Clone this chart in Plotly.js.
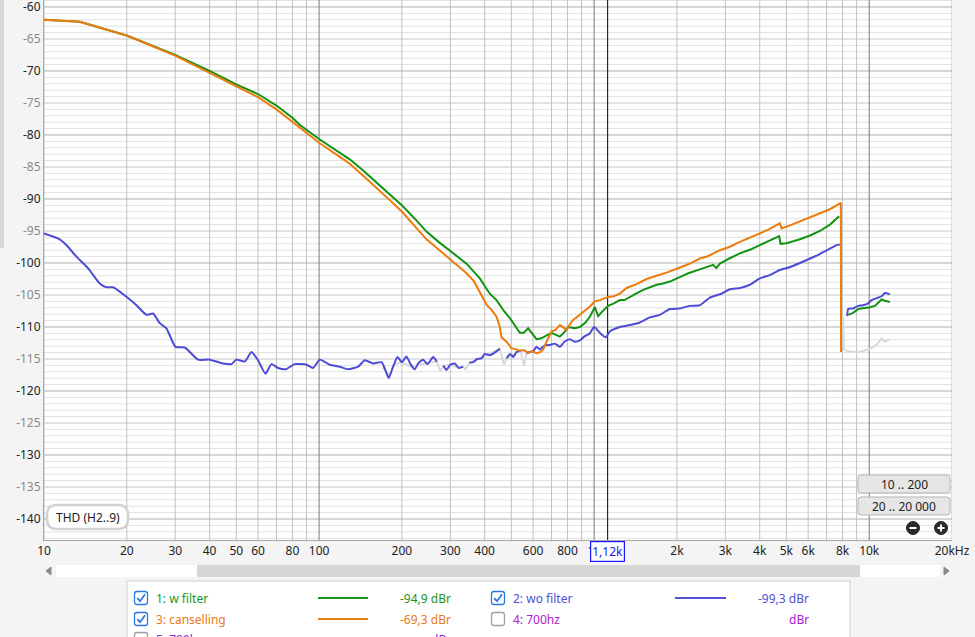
<!DOCTYPE html>
<html><head><meta charset="utf-8">
<script src="https://cdn.plot.ly/plotly-3.0.1.min.js"></script>
<style>html,body{margin:0;padding:0;background:#f4f4f4;overflow:hidden}#chart{width:975px;height:637px}</style>
</head><body><div id="chart"></div>
<script>
// ---------- DATA ----------
const freqGreen = [10, 13.5, 20.1, 30, 40, 50, 60, 70, 80, 85,
  100.6, 115, 129.3, 145, 161.7, 180, 200.3, 222, 245.8, 272,
  300.5, 343.6, 384.1, 400.5, 417.6, 441.7, 454.1, 470, 493.6, 515,
  536.8, 555, 575.4, 590, 617.4, 640, 661.8, 680, 700, 725,
  750.5, 780, 804.5, 850, 887.2, 930, 964.7, 1006, 1034, 1070,
  1124, 1180, 1240, 1290, 1348, 1420, 1508, 1600, 1686, 1780,
  1885, 2049, 2200, 2423, 2560, 2708, 2780, 2865, 3100, 3387,
  3700, 4004, 4300, 4706, 4762, 5000, 5300, 5598, 6100, 6617,
  7200, 7780, 8100, 8388, 8747, 9120, 9511, 10060, 10490, 10940,
  11100, 11400, 11890];
const dbGreen = [-62.0, -62.3, -64.5, -67.5, -70.0, -72.1, -73.6, -75.4, -77.3, -78.4,
  -80.7, -82.3, -83.8, -85.6, -87.4, -89.2, -91.0, -93.0, -95.1, -96.7,
  -98.2, -100.1, -102.4, -103.6, -104.8, -105.8, -106.6, -107.5, -108.6, -109.7,
  -110.9, -110.9, -110.2, -110.8, -111.9, -111.8, -111.4, -111.2, -110.9, -111.2,
  -111.5, -110.8, -110.0, -110.2, -110.0, -109.3, -108.4, -106.9, -108.3, -107.6,
  -106.7, -106.3, -105.8, -105.8, -105.4, -104.8, -104.2, -103.8, -103.4, -103.2,
  -102.9, -102.2, -101.6, -101.0, -100.6, -100.3, -100.8, -100.1, -99.3, -98.5,
  -97.9, -97.2, -96.6, -95.8, -97.0, -96.9, -96.6, -96.3, -95.7, -95.0,
  -94.0, -92.7, null, -108.1, -107.8, -107.2, -107.1, -106.9, -106.7, -106.0,
  -105.7, -105.9, -106.1];

const freqOrange = [10, 13.5, 20.1, 30, 40, 50, 60, 70, 80, 85,
  100.6, 115, 129.3, 145, 161.7, 180, 200.3, 222, 245.8, 272,
  300.5, 320, 343.6, 365, 384.1, 406.2, 425, 441.7, 454.1, 460.6,
  480.2, 500.6, 520, 536.8, 555, 575.4, 595, 617.4, 640, 652.5,
  671.3, 700, 725, 750.5, 775, 793.7, 815, 838.8, 887.2, 930,
  964.7, 1006, 1049, 1124, 1180, 1240, 1312, 1426, 1551, 1686,
  1834, 2049, 2200, 2423, 2600, 2865, 3100, 3387, 3700, 4004,
  4300, 4734, 4803, 5100, 5598, 6100, 6617, 7200, 7825, 7890,
  7900];
const dbOrange = [-62.0, -62.3, -64.5, -67.6, -70.3, -72.4, -74.1, -76.0, -77.9, -78.9,
  -81.3, -83.0, -84.5, -86.4, -88.2, -90.1, -92.0, -94.2, -96.3, -97.9,
  -99.5, -100.5, -101.6, -102.8, -104.6, -106.5, -107.4, -108.4, -110.0, -111.6,
  -112.3, -113.3, -113.5, -113.7, -113.6, -114.0, -113.8, -114.1, -113.9, -113.5,
  -112.3, -110.7, -110.4, -109.7, -110.1, -110.5, -109.6, -108.9, -108.1, -107.4,
  -106.8, -106.0, -105.8, -105.3, -105.2, -104.8, -103.9, -103.3, -102.5, -102.0,
  -101.5, -100.7, -100.2, -99.3, -98.9, -98.0, -97.5, -96.7, -96.0, -95.4,
  -94.8, -93.8, -94.6, -94.2, -93.5, -92.9, -92.3, -91.6, -90.7, -90.6,
  -113.9];

const freqBlue = [10, 11.4, 12.06, 13.12, 14.45, 15.94, 16.86, 17.82, 20.1, 21.68,
  23.58, 24.91, 26.35, 27.87, 30.05, 32.48, 36.31, 40.05, 44.77, 48.03,
  50.07, 53.67, 56.78, 60, 63.85, 67.14, 70.95, 75.68, 81.57, 90,
  95.1, 100.6, 109.4, 118.9, 127.5, 138.7, 146.7, 157.2, 168.7, 173.4,
  179.2, 185.8, 192.8, 200, 207.9, 215, 222.8, 230, 238.9, 248,
  259.7, 268, 275, 283, 290.6, 300, 311.5, 322, 333.9, 345,
  352, 363.1, 375, 389.6, 400, 417.6, 435, 454.1, 465, 480.2,
  495, 508, 522.2, 540, 555, 567.8, 583.7, 600, 617, 634.7,
  660, 690.1, 720, 750.5, 780, 815.9, 850, 887.2, 920, 964.7,
  1000, 1049, 1103, 1140, 1240, 1348, 1467, 1594, 1734, 1885,
  2049, 2228, 2423, 2634, 2900, 3115, 3400, 3683, 4004, 4350,
  4734, 5100, 5598, 6100, 6617, 7100, 7611, 7825, 8100, 8318,
  8388, 8747, 9120, 9511, 9917, 10200, 10640, 11100, 11400, 11890];
const dbBlue = [-95.4, -96.3, -97.2, -99.0, -100.8, -103.2, -103.8, -103.8, -105.4, -106.6,
  -108.1, -107.9, -109.4, -110.2, -113.1, -113.2, -115.1, -115.1, -115.7, -115.8,
  -115.1, -115.4, -113.9, -115.2, -117.3, -115.8, -116.4, -116.6, -115.8, -115.9,
  -116.4, -115.1, -115.9, -116.2, -116.6, -116.2, -115.2, -115.7, -115.5, -116.5,
  -118.0, -116.2, -114.7, -115.5, -114.6, -115.8, -116.6, -115.6, -115.1, -115.8,
  -114.7, -115.4, null, -116.0, -116.7, -115.9, -115.7, -116.4, -116.2, null,
  -115.6, -115.5, -115.0, -114.9, -114.2, -114.4, -114.0, -113.4, null, -114.9,
  -114.2, -114.7, -113.9, -113.7, null, -114.1, -113.9, -113.8, -113.1, -113.5,
  -112.9, -112.8, -112.6, -113.1, -112.3, -111.9, -112.3, -112.1, -111.5, -111.0,
  -110.0, -110.9, -111.6, -110.7, -110.0, -109.7, -109.3, -108.5, -108.1, -107.2,
  -107.1, -106.7, -106.6, -105.4, -104.8, -104.1, -103.9, -103.4, -102.4, -101.9,
  -101.1, -100.7, -100.0, -99.3, -98.6, -97.9, -97.2, -97.1, null, -108.3,
  -107.2, -107.1, -106.7, -106.6, -106.3, -105.8, -105.5, -105.2, -104.7, -104.9];

const freqGray = [170, 180, 188, 200, 215, 230, 250, 268, 276, 283,
  300, 322, 334, 340, 348, 352, 400, 454, 462, 470,
  480, 540, 548, 556, 568, 600, 4000, 8043, 8060, 8080,
  8388, 8747, 9252, 9917, 10060, 10640, 11100, 11400, 11890];
const dbGray = [-116.3, -117.6, -115.8, -115.5, -116.2, -115.9, -115.6, -115.4, -116.9, -116.1,
  -115.9, -116.4, -116.2, -116.6, -115.9, -115.6, -114.6, -113.4, -114.6, -115.9,
  -114.9, -113.7, -114.9, -116.0, -114.1, -113.8, null, -108.4, -111.0, -113.5,
  -113.8, -113.9, -113.9, -113.5, -113.4, -112.8, -111.8, -112.3, -111.9];

const xTickVals = [10,20,30,40,50,60,70,80,90,100,200,300,400,500,600,700,800,900,1000,2000,3000,4000,5000,6000,7000,8000,9000,10000,20000];
const xTickText = ['10','20','30','40','50','60','','80','','100','200','300','400','','600','','800','','1k','2k','3k','4k','5k','6k','','8k','','10k','20kHz'];
const yTickVals = [-140,-135,-130,-125,-120,-115,-110,-105,-100,-95,-90,-85,-80,-75,-70,-65,-60];
const yMinorStep = 1;
const decadeLines = [100, 1000, 10000];
const cursorFreq = 1120;
const cursorLabel = '1,12k';
const legendLabels = ['1: w filter','2: wo filter','3: canselling','4: 700hz','5: 700hz'];
const legendValues = ['-94,9 dBr','-99,3 dBr','-69,3 dBr','dBr','dBr'];
const legendColors = ['#1c961c','#5050d4','#ea7a12','#a822cc','#8a2be2'];
const legendChecked = [true, true, true, false, false];
const rangeButtons = ['10 .. 200', '20 .. 20 000'];
const thdLabel = 'THD (H2..9)';

// ---------- LAYOUT HELPERS ----------
const L = 44, W = 908, H = 540;
const PX = x => (x - L) / W;
const PY = y => (H - y) / H;
function rrect(x0, y0, x1, y1, r) {
  const a = x => PX(x).toFixed(5), b = y => PY(y).toFixed(5);
  return `M${a(x0+r)},${b(y0)} L${a(x1-r)},${b(y0)} Q${a(x1)},${b(y0)} ${a(x1)},${b(y0+r)} ` +
    `L${a(x1)},${b(y1-r)} Q${a(x1)},${b(y1)} ${a(x1-r)},${b(y1)} L${a(x0+r)},${b(y1)} ` +
    `Q${a(x0)},${b(y1)} ${a(x0)},${b(y1-r)} L${a(x0)},${b(y0+r)} Q${a(x0)},${b(y0)} ${a(x0+r)},${b(y0)} Z`;
}
function pline(pts) {
  return pts.map((p, i) => (i ? 'L' : 'M') + PX(p[0]).toFixed(5) + ',' + PY(p[1]).toFixed(5)).join(' ');
}
const FONT = 'Noto Sans, Open Sans, sans-serif';

const yRange = [-143.28, -58.91];
const yTickText = yTickVals.map(v => v % 10 === 0 ? `<span style="color:#222">${v}</span>` : `<span style="color:#8a8a8a">${v}</span>`);

const shapes = [];
const annotations = [];

// ---- grid drawn as below-trace lines, in a controlled order ----
const hline = (v, color) => ({type:'line', xref:'paper', yref:'y', x0:0, x1:1, y0:v, y1:v, line:{color:color, width:1}, layer:'below'});
const vline = (f, color) => ({type:'line', xref:'x', yref:'paper', x0:f, x1:f, y0:0, y1:1, line:{color:color, width:1}, layer:'below'});
for (let v = Math.ceil(yRange[0]); v <= Math.floor(yRange[1]); v += yMinorStep) {
  if (!yTickVals.includes(v)) shapes.push(hline(v, '#e2e2e2'));
}
xTickVals.filter(f => !decadeLines.includes(f)).forEach(f => shapes.push(vline(f, '#c2c2c2')));
yTickVals.forEach(v => shapes.push(hline(v, v % 10 === 0 ? '#adadad' : '#c6c6c6')));
decadeLines.forEach(f => shapes.push(vline(f, '#7a7a7a')));
shapes.push(vline(cursorFreq, '#000000'));

// left strip
shapes.push({type:'rect', xref:'paper', yref:'paper', x0:PX(0), x1:PX(4), y0:PY(248), y1:PY(0),
  fillcolor:'#d6d6d6', line:{width:0}, layer:'above'});

// THD box
shapes.push({type:'path', xref:'paper', yref:'paper', path:rrect(47, 505, 128, 529, 10),
  fillcolor:'#ffffff', line:{color:'#d2d2d2', width:2.5}, layer:'above'});
annotations.push({xref:'paper', yref:'paper', x:PX(88), y:PY(517), text:thdLabel, showarrow:false,
  xanchor:'center', yanchor:'middle', font:{family:FONT, size:12, color:'#222'}});

// range buttons
rangeButtons.forEach((t, i) => {
  const y0 = 475 + i * 22;
  shapes.push({type:'path', xref:'paper', yref:'paper', path:rrect(858, y0, 950, y0 + 18, 3),
    fillcolor:'#e6e6e6', line:{color:'#b4b4b4', width:1}, layer:'above'});
  annotations.push({xref:'paper', yref:'paper', x:PX(904), y:PY(y0 + 9), text:t, showarrow:false,
    xanchor:'center', yanchor:'middle', font:{family:FONT, size:12, color:'#222'}});
});
// zoom icons
[[913, false], [941, true]].forEach(([cx, plus]) => {
  shapes.push({type:'circle', xref:'paper', yref:'paper', x0:PX(cx-6.5), x1:PX(cx+6.5), y0:PY(534.5), y1:PY(521.5),
    fillcolor:'#2a2a2a', line:{color:'#2a2a2a', width:1}, layer:'above'});
  shapes.push({type:'path', xref:'paper', yref:'paper', path:pline([[cx-3.5,528],[cx+3.5,528]]),
    line:{color:'#ffffff', width:2}, layer:'above'});
  if (plus) shapes.push({type:'path', xref:'paper', yref:'paper', path:pline([[cx,524.5],[cx,531.5]]),
    line:{color:'#ffffff', width:2}, layer:'above'});
});

// cursor label
annotations.push({xref:'x', yref:'paper', x:Math.log10(cursorFreq), y:PY(551), text:cursorLabel, showarrow:false,
  xanchor:'center', yanchor:'middle', bgcolor:'#ffffff', bordercolor:'#1818ff', borderwidth:1.2, borderpad:1,
  font:{family:FONT, size:12, color:'#1a1aee'}});

// scrollbar
shapes.push({type:'rect', xref:'paper', yref:'paper', x0:PX(56), x1:PX(940), y0:PY(577), y1:PY(565),
  fillcolor:'#ffffff', line:{width:0}, layer:'above'});
shapes.push({type:'rect', xref:'paper', yref:'paper', x0:PX(197), x1:PX(860), y0:PY(577), y1:PY(565),
  fillcolor:'#d6d6d6', line:{width:0}, layer:'above'});
shapes.push({type:'path', xref:'paper', yref:'paper', path:pline([[51,567],[46,571],[51,575]]) + ' Z',
  fillcolor:'#8a8a8a', line:{color:'#8a8a8a', width:1}, layer:'above'});
shapes.push({type:'path', xref:'paper', yref:'paper', path:pline([[944,567],[949,571],[944,575]]) + ' Z',
  fillcolor:'#8a8a8a', line:{color:'#8a8a8a', width:1}, layer:'above'});

// legend panel
shapes.push({type:'rect', xref:'paper', yref:'paper', x0:PX(127), x1:PX(850), y0:PY(660), y1:PY(581),
  fillcolor:'#ffffff', line:{color:'#cfcfcf', width:1}, layer:'above'});
const colX = [{cb:141, tx:154, l0:318, l1:368, vr:453}, {cb:498, tx:511, l0:675, l1:726, vr:811}];
const rowY = [598, 619, 639];
const slots = [[0,0],[1,0],[0,1],[1,1],[0,2]];
legendLabels.forEach((lab, i) => {
  const c = colX[slots[i][0]], y = rowY[slots[i][1]];
  const col = legendColors[i];
  shapes.push({type:'path', xref:'paper', yref:'paper', path:rrect(c.cb-6.5, y-6.5, c.cb+6.5, y+6.5, 2.5),
    fillcolor:'#ffffff', line:{color: legendChecked[i] ? '#2a78dc' : '#a0a0a0', width:1.3}, layer:'above'});
  if (legendChecked[i]) {
    shapes.push({type:'path', xref:'paper', yref:'paper', path:pline([[c.cb-3.8,y+0.2],[c.cb-1,y+3.2],[c.cb+4,y-3.8]]),
      line:{color:'#2a78dc', width:1.8}, layer:'above'});
    shapes.push({type:'line', xref:'paper', yref:'paper', x0:PX(c.l0), x1:PX(c.l1), y0:PY(y), y1:PY(y),
      line:{color:col, width:2.2}, layer:'above'});
  }
  annotations.push({xref:'paper', yref:'paper', x:PX(c.tx), y:PY(y), text:lab, showarrow:false,
    xanchor:'left', yanchor:'middle', font:{family:FONT, size:12, color:col}});
  annotations.push({xref:'paper', yref:'paper', x:PX(c.vr), y:PY(y), text:legendValues[i], showarrow:false,
    xanchor:'right', yanchor:'middle', font:{family:FONT, size:12, color:col}});
});

// ---------- TRACES ----------
const traces = [
  {x:freqGray, y:dbGray, type:'scatter', mode:'lines', line:{color:'#d9d9d9', width:2}, connectgaps:false},
  {x:freqBlue, y:dbBlue, type:'scatter', mode:'lines', line:{color:'#4c4cd4', width:2, shape:'spline', smoothing:0.5}, connectgaps:false},
  {x:freqGreen, y:dbGreen, type:'scatter', mode:'lines', line:{color:'#139313', width:2}, connectgaps:false},
  {x:freqOrange, y:dbOrange, type:'scatter', mode:'lines', line:{color:'#ee7b0c', width:2}, connectgaps:false}
];

const layout = {
  width:975, height:637,
  margin:{l:L, r:975-L-W, t:0, b:637-H, pad:0},
  paper_bgcolor:'#f4f4f4', plot_bgcolor:'#ffffff',
  showlegend:false, hovermode:false,
  font:{family:FONT, size:12, color:'#222'},
  xaxis:{type:'log', range:[1, Math.log10(20000)], tickmode:'array', tickvals:xTickVals, ticktext:xTickText,
    showgrid:false, ticks:'', showline:true, linecolor:'#a8a8a8', linewidth:1,
    zeroline:false, tickfont:{family:FONT, size:12, color:'#222'}, fixedrange:true},
  yaxis:{range:yRange, tickmode:'array', tickvals:yTickVals, ticktext:yTickText,
    showgrid:false, ticks:'', showline:true, linecolor:'#a8a8a8', linewidth:1,
    ticklabeloverflow:'allow', ticklabelshift:1.5,
    zeroline:false, tickfont:{family:FONT, size:12}, fixedrange:true},
  shapes:shapes, annotations:annotations
};

Plotly.newPlot('chart', traces, layout, {staticPlot:true, displayModeBar:false});
</script>
</body></html>
